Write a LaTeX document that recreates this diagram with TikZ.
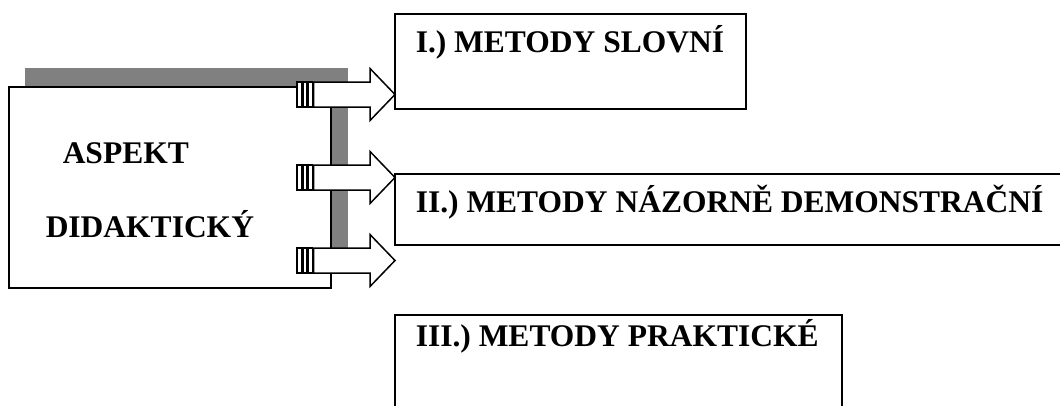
\documentclass[tikz,border=0pt]{standalone}
\usepackage{fontspec}
\setmainfont{Liberation Serif}
\usepackage{tikz}

\begin{document}
\begin{tikzpicture}[x=1pt, y=-1pt, line width=1.5pt,
    txt/.style={anchor=base west, inner sep=0pt, font=\fontsize{31.5}{36}\selectfont\bfseries},
    box/.style={draw, fill=white, inner sep=0pt, anchor=north west}]
            \useasboundingbox (0,0) rectangle (1060,405);
            \clip (0,0) rectangle (1060,405);

            % shadow
            \fill[black!50] (25,68) rectangle (348,269);

            % main box
            \node[box, minimum width=322pt, minimum height=201pt] (aspekt) at (8,86) {};
            \node[txt] (aspekttext) at (62,163) {ASPEKT};
            \node[txt] (didaktickytext) at (45,237) {DIDAKTICKÝ};

            % method boxes
            \node[box, minimum width=351pt, minimum height=95pt] (slovni) at (394,13) {};
            \node[txt] (slovnitext) at (415,52) {I.) METODY SLOVNÍ};

            \node[box, minimum width=670pt, minimum height=71pt] (nazorne) at (394,173) {};
            \node[txt] (nazornetext) at (415,212) {II.) METODY NÁZORNĚ DEMONSTRAČNÍ};

            \node[box, minimum width=447pt, minimum height=110pt] (prakticke) at (394,314) {};
            \node[txt] (praktickytext) at (415,346) {III.) METODY PRAKTICKÉ};

            % striped arrows
            \foreach \y in {94.5, 177.5, 260.5} {
                \draw[fill=white, line width=1.1pt] (297,\y-12.5) rectangle (301.5,\y+12.5);
                \draw[fill=white, line width=1.1pt] (303,\y-12.5) rectangle (307,\y+12.5);
                \draw[fill=white, line width=1.1pt] (308.5,\y-12.5) rectangle (312.5,\y+12.5);
                \draw[fill=white, line join=miter]
                    (313.5,\y-12.5) -- (370,\y-12.5) -- (370,\y-26) -- (395,\y)
                    -- (370,\y+26) -- (370,\y+12.5) -- (313.5,\y+12.5) -- cycle;
            }
\end{tikzpicture}
\end{document}
